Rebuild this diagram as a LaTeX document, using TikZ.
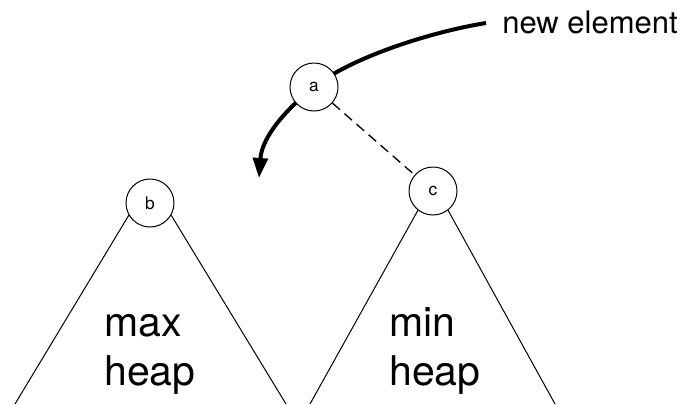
\documentclass[tikz,border=0pt]{standalone}
\usepackage{fontspec}
\setmainfont{TeX Gyre Heros}
\usetikzlibrary{arrows.meta}
\begin{document}
\begin{tikzpicture}[x=0.75pt,y=-0.75pt,
  heapnode/.style={circle,draw,fill=white,line width=0.75pt,minimum size=36pt,inner sep=0pt,font=\fontsize{13}{15}\selectfont},
  edge/.style={line width=0.75pt},
  bigtext/.style={inner sep=0pt,align=left,anchor=base west,font=\fontsize{30.75}{36.75}\selectfont},
  insertarrow/.style={line width=3pt,-{Triangle[length=15pt,width=11pt]}}]
\useasboundingbox (0,0) rectangle (681,404);

% coordinates where the subtree sides leave the picture
\coordinate (bl) at (15,404);
\coordinate (br) at (286,404);
\coordinate (cl) at (310,404);
\coordinate (cr) at (555,404);
\coordinate (src) at (486,23);
\coordinate (dst) at (259,178);

% insertion path of the new element, passing under node a
\draw[insertarrow] (src) .. controls (430,32) and (350,58) .. (314,87)
                         .. controls (290,106) and (262,135) .. (dst);

\node[heapnode] (a) at (314,87) {a};
\node[heapnode] (b) at (150,203) {b};
\node[heapnode] (c) at (433,191) {c};

% subtree outlines
\draw[edge] (b.210) -- (bl);
\draw[edge] (b.330) -- (br);
\draw[edge] (c.232) -- (cl);
\draw[edge] (c.308) -- (cr);

\draw[line width=1pt,dash pattern=on 7.5pt off 4.5pt] (a) -- (c);

\node[bigtext] (maxheap) at (104,385) {max\\heap};
\node[bigtext] (minheap) at (389,385) {min\\heap};
\node[inner sep=0pt,anchor=base west,font=\fontsize{23.25}{28}\selectfont] (newel) at (502,33) {new element};
\end{tikzpicture}
\end{document}
